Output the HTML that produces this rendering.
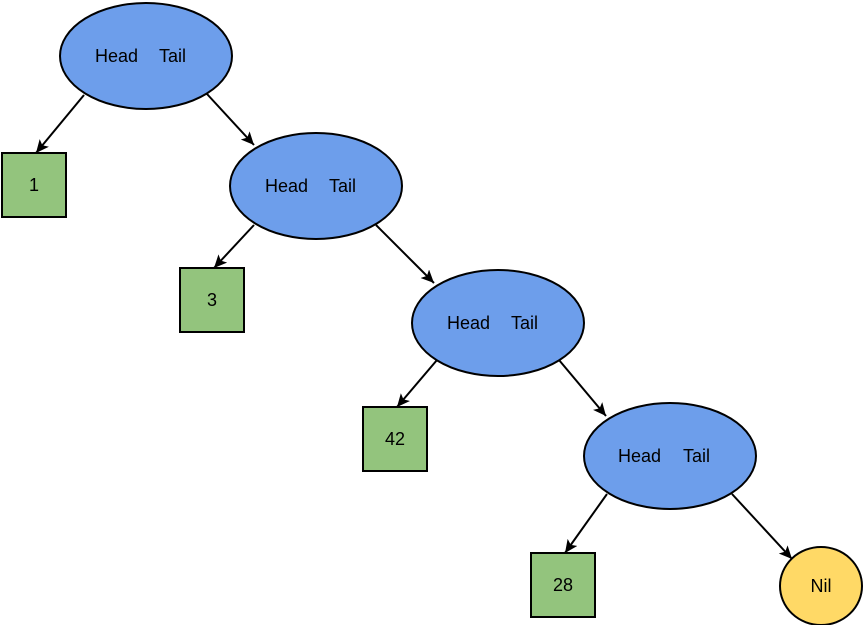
<!DOCTYPE html>
<html><head><style>html,body{margin:0;padding:0;background:#fff}svg{display:block}text{font-family:"Liberation Sans",Arial,sans-serif;font-size:18px}</style></head>
<body>
<svg width="865" height="625" viewBox="0 0 865 625" xmlns="http://www.w3.org/2000/svg">
<defs><marker id="a" markerWidth="14" markerHeight="14" refX="13" refY="6" orient="auto" markerUnits="userSpaceOnUse"><path d="M0,0 L13,6 L0,12 L3,6 z" fill="#000"/></marker></defs>
<g stroke="#000" stroke-width="2" fill="none" marker-end="url(#a)">
<line x1="84" y1="95" x2="36" y2="153"/>
<line x1="207" y1="94" x2="254" y2="145"/>
<line x1="254" y1="225" x2="214" y2="268"/>
<line x1="376" y1="225" x2="434" y2="283"/>
<line x1="437" y1="360" x2="397" y2="407"/>
<line x1="559" y1="360" x2="606" y2="416"/>
<line x1="607" y1="494" x2="565" y2="553"/>
<line x1="732" y1="494" x2="792" y2="559"/>
</g>
<g stroke="#000" stroke-width="2">
<ellipse cx="146" cy="56" rx="86" ry="53" fill="#6d9eeb"/>
<ellipse cx="316" cy="186" rx="86" ry="53" fill="#6d9eeb"/>
<ellipse cx="498" cy="323" rx="86" ry="53" fill="#6d9eeb"/>
<ellipse cx="670" cy="456" rx="86" ry="53" fill="#6d9eeb"/>
<rect x="2" y="153" width="64" height="64" fill="#93c47d"/>
<rect x="180" y="268" width="64" height="64" fill="#93c47d"/>
<rect x="363" y="407" width="64" height="64" fill="#93c47d"/>
<rect x="531" y="553" width="64" height="64" fill="#93c47d"/>
<ellipse cx="821" cy="586" rx="41" ry="39" fill="#ffd966"/>
</g>
<g fill="#000">
<text x="95" y="62">Head</text><text x="159" y="62">Tail</text>
<text x="265" y="192">Head</text><text x="329" y="192">Tail</text>
<text x="447" y="329">Head</text><text x="511" y="329">Tail</text>
<text x="618" y="462">Head</text><text x="683" y="462">Tail</text>
<g text-anchor="middle">
<text x="34" y="191">1</text>
<text x="212" y="306">3</text>
<text x="395" y="445">42</text>
<text x="563" y="591">28</text>
<text x="821" y="592">Nil</text>
</g></g>
</svg>
</body></html>
